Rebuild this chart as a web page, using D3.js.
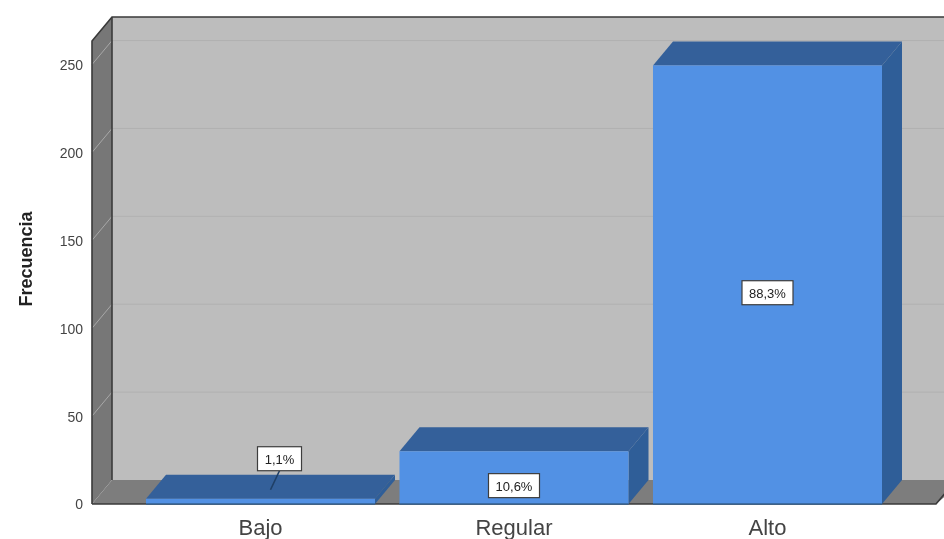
<!DOCTYPE html>
<html><head><meta charset="utf-8">
<script src="https://cdn.jsdelivr.net/npm/d3@7"></script>
<style>html,body{margin:0;padding:0;background:#fff}svg{display:block;filter:blur(0.45px)}text{font-family:"Liberation Sans",Arial,sans-serif}</style>
</head><body><svg id="c" width="944" height="539"></svg>
<script>
const categories = ["Bajo","Regular","Alto"];
const counts = [3,30,249.5];
const percentLabels = ["1,1%","10,6%","88,3%"];
const yTicks = [0,50,100,150,200,250];
const axisTitle = "Frecuencia";

const W=944,H=539,dx=20,dy=-24;
const svg=d3.select("#c");
const y=d3.scaleLinear().domain([0,263.4]).range([504,41]);
const x=d3.scaleBand().domain(categories).range([146,882]).paddingInner(0.0966);
const pts=a=>a.map(p=>p.join(",")).join(" ");
const xL=92,xR=936,y0=y(0),yT=y(263.4);

// back wall
svg.append("polygon").attr("points",pts([[xL+dx,yT+dy],[W+2,yT+dy],[W+2,y0+dy],[xL+dx,y0+dy]])).attr("fill","#bdbdbd");
// left wall
svg.append("polygon").attr("points",pts([[xL,yT],[xL+dx,yT+dy],[xL+dx,y0+dy],[xL,y0]])).attr("fill","#777777");
// floor
svg.append("polygon").attr("points",pts([[xL,y0],[xL+dx,y0+dy],[W+20,y0+dy],[xR,y0]])).attr("fill","#7d7d7d");
// gridlines
const grid=svg.append("g").selectAll("g").data(yTicks.filter(d=>d>0)).join("g");
grid.append("line").attr("x1",xL+dx).attr("x2",W).attr("y1",d=>y(d)+dy).attr("y2",d=>y(d)+dy).attr("stroke","#b1b1b1").attr("stroke-width",1);
grid.append("line").attr("x1",xL).attr("x2",xL+dx).attr("y1",d=>y(d)).attr("y2",d=>y(d)+dy).attr("stroke","#a8a8a8").attr("stroke-width",1);
// frame
const frame=svg.append("g").attr("fill","none").attr("stroke","#3a3a3a").attr("stroke-width",1.6);
frame.append("polyline").attr("points",pts([[xL,y0],[xL,yT],[xL+dx,yT+dy],[W,yT+dy]]));
frame.append("line").attr("x1",xL+dx).attr("x2",xL+dx).attr("y1",yT+dy).attr("y2",y0+dy);
frame.append("polyline").attr("points",pts([[xL,y0],[xR,y0],[xR+dx,y0+dy]]));

// bars
const bars=svg.append("g").selectAll("g").data(categories.map((c,i)=>({c,v:counts[i],p:percentLabels[i]}))).join("g");
bars.append("polygon").attr("fill","#34609a").attr("points",d=>{const a=x(d.c),b=a+x.bandwidth(),t=y(d.v);
  return pts([[a,t],[a+dx,t+dy],[b+dx,t+dy],[b,t]]);});
bars.append("polygon").attr("fill","#2f5e98").attr("points",d=>{const b=x(d.c)+x.bandwidth(),t=y(d.v);
  return pts([[b,t],[b+dx,t+dy],[b+dx,y0+dy],[b,y0]]);});
bars.append("rect").attr("fill","#5291e4").attr("x",d=>x(d.c)).attr("width",x.bandwidth()).attr("y",d=>y(d.v)).attr("height",d=>y0-y(d.v));
bars.append("line").attr("stroke","#35618f").attr("stroke-width",1.5).attr("x1",d=>x(d.c)).attr("x2",d=>x(d.c)+x.bandwidth()).attr("y1",y0).attr("y2",y0);

// labels
const small=d=>d.v<10;
const lx=d=>x(d.c)+x.bandwidth()/2+(small(d)?19:0);
const ly=d=>small(d)?y(d.v)-40:(y(d.v)+y0)/2+8;
bars.filter(small).append("line").attr("stroke","#1f3f66").attr("stroke-width",1.6)
  .attr("x1",d=>lx(d)).attr("y1",d=>ly(d)+12).attr("x2",d=>lx(d)-9).attr("y2",d=>ly(d)+31);
bars.append("rect").attr("fill","#fff").attr("stroke","#3d3d3d").attr("stroke-width",1.2)
  .attr("x",d=>lx(d)-(small(d)?22:25.5)).attr("width",d=>small(d)?44:51).attr("y",d=>ly(d)-12).attr("height",24);
bars.append("text").attr("x",lx).attr("y",d=>ly(d)+5).attr("text-anchor","middle").attr("font-size",13).attr("fill","#222").text(d=>d.p);

// y axis
const ax=svg.append("g").attr("transform",`translate(${xL-9},0)`).call(d3.axisLeft(y).tickValues(yTicks).tickSize(0).tickPadding(0));
ax.select(".domain").remove();
ax.selectAll("text").attr("font-size",14).attr("fill","#444").style("font-family",'"Liberation Sans",Arial,sans-serif').attr("dy","0.35em");
// x axis
const bx=svg.append("g").attr("transform",`translate(0,${y0+15})`).call(d3.axisBottom(x).tickSize(0).tickPadding(0));
bx.select(".domain").remove();
bx.selectAll("text").attr("font-size",22).attr("fill","#444").style("font-family",'"Liberation Sans",Arial,sans-serif');
// title
svg.append("text").attr("transform","translate(32,259) rotate(-90)").attr("text-anchor","middle").attr("font-size",18).attr("font-weight","bold").attr("fill","#222").text(axisTitle);
</script></body></html>
